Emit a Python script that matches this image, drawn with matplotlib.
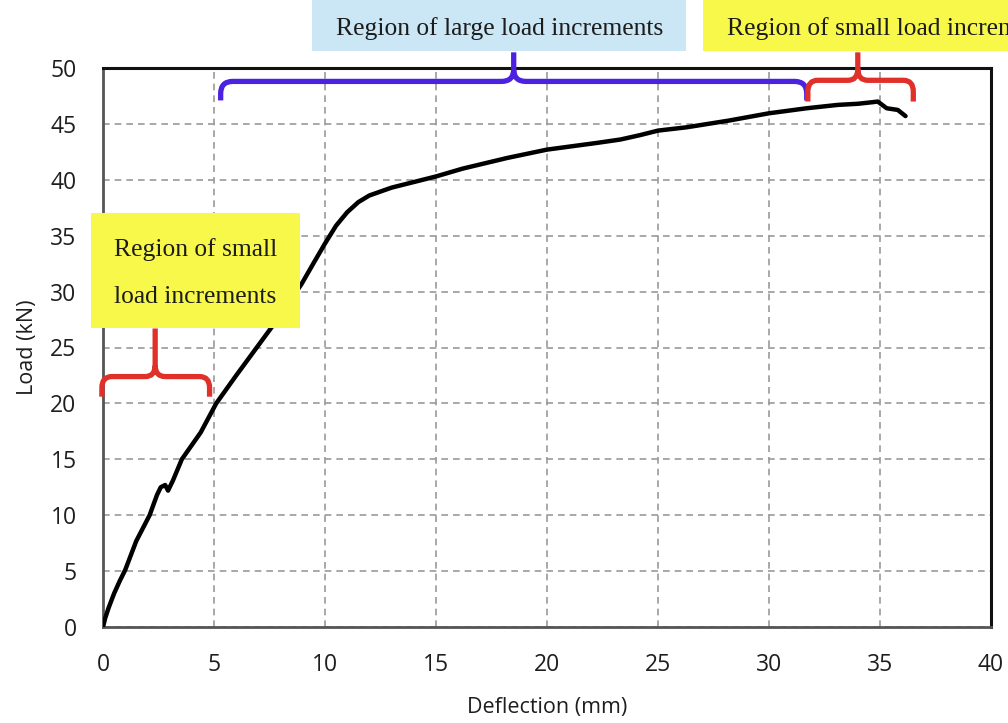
import matplotlib
matplotlib.use("Agg")
import matplotlib.pyplot as plt
from matplotlib.patches import Rectangle, PathPatch
from matplotlib.path import Path

# Load-deflection response of the test specimen
deflection_mm = [0, 0.1, 0.25, 0.5, 0.75, 1.0, 1.5, 2.1, 2.43, 2.6, 2.8, 2.93,
                 3.15, 3.55, 4.4, 5.1, 6.0, 7.0, 8.0, 8.95, 9.5, 10.0, 10.5,
                 11.0, 11.5, 12.0, 13.0, 14.0, 15.0, 16.2, 18.2, 20.0, 22.25,
                 23.3, 24.2, 25.0, 26.3, 28.2, 30.0, 31.7, 33.1, 34.0, 34.7,
                 34.9, 35.3, 35.8, 36.15]
load_kN = [0, 0.8, 1.7, 3.0, 4.1, 5.1, 7.7, 10.0, 11.8, 12.5, 12.7, 12.2,
           13.1, 15.0, 17.4, 20.0, 22.5, 25.2, 27.9, 30.7, 32.6, 34.3, 35.9,
           37.1, 38.0, 38.6, 39.3, 39.8, 40.3, 41.0, 41.95, 42.7, 43.3,
           43.6, 44.0, 44.4, 44.7, 45.3, 45.95, 46.4, 46.7, 46.8, 46.95,
           47.0, 46.4, 46.25, 45.7]

x_ticks = [0, 5, 10, 15, 20, 25, 30, 35, 40]
y_ticks = [0, 5, 10, 15, 20, 25, 30, 35, 40, 45, 50]

# Curly-brace spans: (x_start, x_end, x_tip, y_end, y_bar, y_tip)
brace_large = (5.3, 31.7, 18.5, 47.1, 48.8, 51.4)
brace_small_top = (31.75, 36.5, 34.0, 47.0, 48.9, 51.4)
brace_small_left = (-0.05, 4.8, 2.35, 20.6, 22.4, 26.7)

label_large = "Region of large load increments"
label_small_top = "Region of small load increments"
label_small_left = ["Region of small", "load increments"]

W, H = 1008, 723
fig = plt.figure(figsize=(W / 100, H / 100), dpi=100)
ax = fig.add_axes([103 / W, 1 - 627 / H, 888 / W, 559 / H])

ax.plot(deflection_mm, load_kN, color="black", lw=3.2, solid_joinstyle="round",
        solid_capstyle="round", zorder=3)

ax.set_xlim(0, 40)
ax.set_ylim(0, 50)
ax.set_xticks(x_ticks)
ax.set_yticks(y_ticks)
ax.tick_params(length=0, pad=19, labelsize=16.5, labelcolor="#1e1e1e")
for lab in ax.get_xticklabels() + ax.get_yticklabels():
    lab.set_fontfamily("Open Sans")
ax.grid(True, color="#9a9a9a", lw=1.2, ls=(0, (4, 3)))
ax.set_axisbelow(True)

for side in ("top", "right"):
    ax.spines[side].set_color("#111111")
    ax.spines[side].set_linewidth(2.2)
for side in ("left", "bottom"):
    ax.spines[side].set_color("#555555")
    ax.spines[side].set_linewidth(2.0)

ax.set_xlabel("Deflection (mm)", fontsize=15.5, family="Open Sans", color="#1e1e1e")
ax.set_ylabel("Load (kN)", fontsize=15.5, family="Open Sans", color="#1e1e1e")
ax.xaxis.set_label_coords(0.5, (627 - 707) / 559)
ax.xaxis.label.set_va("center")
ax.yaxis.set_label_coords((27 - 103) / 888, 0.5)
ax.yaxis.label.set_va("center")


def brace(spec, color, rx=0.5, ry=1.0):
    x0, x1, xt, ye, yb, yt = spec
    verts = [
        (x0, ye), (x0, yb - ry), (x0, yb), (x0 + rx, yb),
        (xt - rx, yb), (xt, yb), (xt, yb + ry), (xt, yt),
        (xt, yb + ry), (xt, yb), (xt + rx, yb),
        (x1 - rx, yb), (x1, yb), (x1, yb - ry), (x1, ye),
    ]
    codes = [Path.MOVETO, Path.LINETO, Path.CURVE3, Path.CURVE3,
             Path.LINETO, Path.CURVE3, Path.CURVE3, Path.LINETO,
             Path.MOVETO, Path.CURVE3, Path.CURVE3,
             Path.LINETO, Path.CURVE3, Path.CURVE3, Path.LINETO]
    patch = PathPatch(Path(verts, codes), facecolor="none", edgecolor=color,
                      lw=3.8, capstyle="butt", joinstyle="round",
                      clip_on=False, zorder=4)
    ax.add_patch(patch)


brace(brace_large, "#4a22e0", rx=0.55, ry=1.1)
brace(brace_small_top, "#e0302a", rx=0.45, ry=1.0)
brace(brace_small_left, "#e0302a", rx=0.45, ry=1.0)


def box(x0, y0, x1, y1, color):
    fig.add_artist(Rectangle((x0 / W, 1 - y1 / H), (x1 - x0) / W, (y1 - y0) / H,
                             transform=fig.transFigure, facecolor=color,
                             edgecolor="none", zorder=5))


serif = dict(family="Liberation Serif", fontsize=18.4, color="#1c1c1c", zorder=6)

box(312, -5, 686, 51, "#cbe6f5")
fig.text(500 / W, 1 - 29 / H, label_large, ha="center", va="center", **serif)

box(703, -5, 1020, 51, "#f8f84a")
fig.text(727 / W, 1 - 29 / H, label_small_top, ha="left", va="center", **serif)

box(91, 213, 300, 328, "#f8f84a")
fig.text(195.5 / W, 1 - 250 / H, label_small_left[0], ha="center", va="center",
         **serif)
fig.text(195.5 / W, 1 - 297 / H, label_small_left[1], ha="center", va="center",
         **serif)

fig.savefig("out.png", dpi=100)
